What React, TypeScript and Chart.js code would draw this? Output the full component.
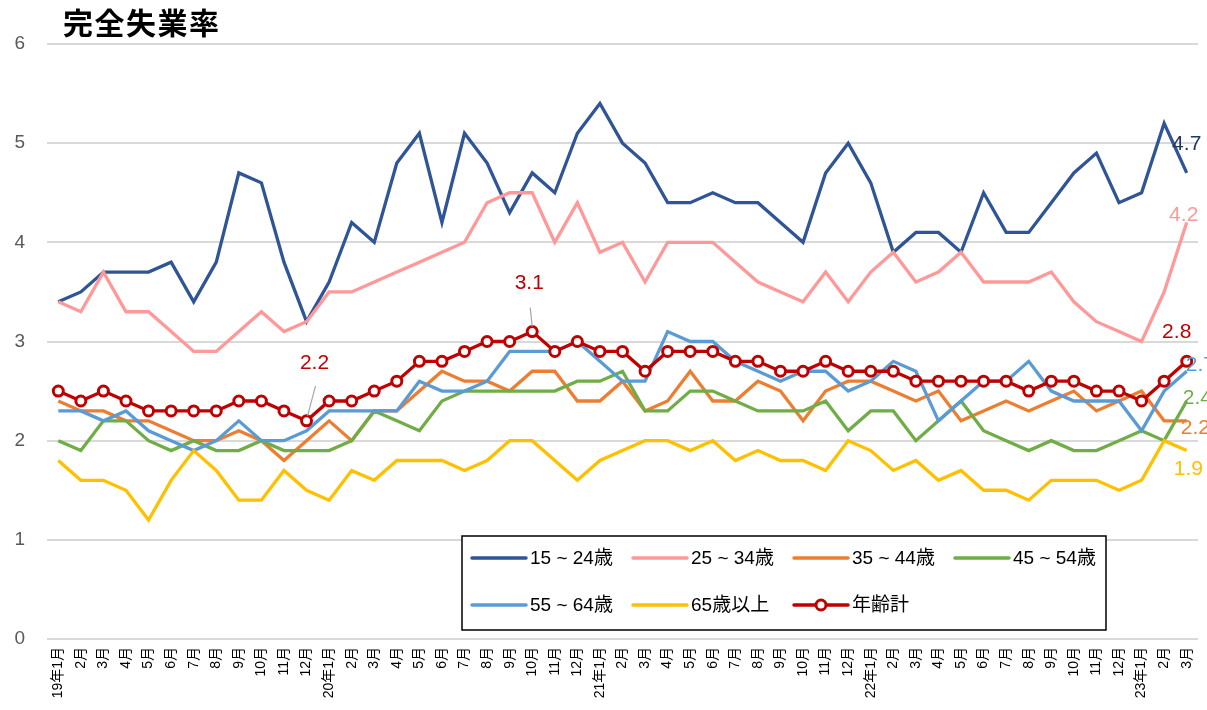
import React, { useEffect, useRef } from "react";
import { Chart, registerables } from "chart.js";

Chart.register(...registerables);

const FONT = "'Liberation Sans', Arial, 'Noto Sans CJK JP', sans-serif";

const title = "完全失業率";

const months = [
  "19年1月", "2月", "3月", "4月", "5月", "6月", "7月", "8月", "9月", "10月", "11月", "12月",
  "20年1月", "2月", "3月", "4月", "5月", "6月", "7月", "8月", "9月", "10月", "11月", "12月",
  "21年1月", "2月", "3月", "4月", "5月", "6月", "7月", "8月", "9月", "10月", "11月", "12月",
  "22年1月", "2月", "3月", "4月", "5月", "6月", "7月", "8月", "9月", "10月", "11月", "12月",
  "23年1月", "2月", "3月",
];

const yTicks = [0, 1, 2, 3, 4, 5, 6];

const seriesNames = ["15 ~ 24歳", "25 ~ 34歳", "35 ~ 44歳", "45 ~ 54歳", "55 ~ 64歳", "65歳以上", "年齢計"];

const age15to24 = [
  3.4, 3.5, 3.7, 3.7, 3.7, 3.8, 3.4, 3.8, 4.7, 4.6, 3.8, 3.2,
  3.6, 4.2, 4.0, 4.8, 5.1, 4.2, 5.1, 4.8, 4.3, 4.7, 4.5, 5.1,
  5.4, 5.0, 4.8, 4.4, 4.4, 4.5, 4.4, 4.4, 4.2, 4.0, 4.7, 5.0,
  4.6, 3.9, 4.1, 4.1, 3.9, 4.5, 4.1, 4.1, 4.4, 4.7, 4.9, 4.4,
  4.5, 5.2, 4.7,
];

const age25to34 = [
  3.4, 3.3, 3.7, 3.3, 3.3, 3.1, 2.9, 2.9, 3.1, 3.3, 3.1, 3.2,
  3.5, 3.5, 3.6, 3.7, 3.8, 3.9, 4.0, 4.4, 4.5, 4.5, 4.0, 4.4,
  3.9, 4.0, 3.6, 4.0, 4.0, 4.0, 3.8, 3.6, 3.5, 3.4, 3.7, 3.4,
  3.7, 3.9, 3.6, 3.7, 3.9, 3.6, 3.6, 3.6, 3.7, 3.4, 3.2, 3.1,
  3.0, 3.5, 4.2,
];

const age35to44 = [
  2.4, 2.3, 2.3, 2.2, 2.2, 2.1, 2.0, 2.0, 2.1, 2.0, 1.8, 2.0,
  2.2, 2.0, 2.3, 2.3, 2.5, 2.7, 2.6, 2.6, 2.5, 2.7, 2.7, 2.4,
  2.4, 2.6, 2.3, 2.4, 2.7, 2.4, 2.4, 2.6, 2.5, 2.2, 2.5, 2.6,
  2.6, 2.5, 2.4, 2.5, 2.2, 2.3, 2.4, 2.3, 2.4, 2.5, 2.3, 2.4,
  2.5, 2.2, 2.2,
];

const age45to54 = [
  2.0, 1.9, 2.2, 2.2, 2.0, 1.9, 2.0, 1.9, 1.9, 2.0, 1.9, 1.9,
  1.9, 2.0, 2.3, 2.2, 2.1, 2.4, 2.5, 2.5, 2.5, 2.5, 2.5, 2.6,
  2.6, 2.7, 2.3, 2.3, 2.5, 2.5, 2.4, 2.3, 2.3, 2.3, 2.4, 2.1,
  2.3, 2.3, 2.0, 2.2, 2.4, 2.1, 2.0, 1.9, 2.0, 1.9, 1.9, 2.0,
  2.1, 2.0, 2.4,
];

const age55to64 = [
  2.3, 2.3, 2.2, 2.3, 2.1, 2.0, 1.9, 2.0, 2.2, 2.0, 2.0, 2.1,
  2.3, 2.3, 2.3, 2.3, 2.6, 2.5, 2.5, 2.6, 2.9, 2.9, 2.9, 3.0,
  2.8, 2.6, 2.6, 3.1, 3.0, 3.0, 2.8, 2.7, 2.6, 2.7, 2.7, 2.5,
  2.6, 2.8, 2.7, 2.2, 2.4, 2.6, 2.6, 2.8, 2.5, 2.4, 2.4, 2.4,
  2.1, 2.5, 2.7,
];

const age65plus = [
  1.8, 1.6, 1.6, 1.5, 1.2, 1.6, 1.9, 1.7, 1.4, 1.4, 1.7, 1.5,
  1.4, 1.7, 1.6, 1.8, 1.8, 1.8, 1.7, 1.8, 2.0, 2.0, 1.8, 1.6,
  1.8, 1.9, 2.0, 2.0, 1.9, 2.0, 1.8, 1.9, 1.8, 1.8, 1.7, 2.0,
  1.9, 1.7, 1.8, 1.6, 1.7, 1.5, 1.5, 1.4, 1.6, 1.6, 1.6, 1.5,
  1.6, 2.0, 1.9,
];

const allAges = [
  2.5, 2.4, 2.5, 2.4, 2.3, 2.3, 2.3, 2.3, 2.4, 2.4, 2.3, 2.2,
  2.4, 2.4, 2.5, 2.6, 2.8, 2.8, 2.9, 3.0, 3.0, 3.1, 2.9, 3.0,
  2.9, 2.9, 2.7, 2.9, 2.9, 2.9, 2.8, 2.8, 2.7, 2.7, 2.8, 2.7,
  2.7, 2.7, 2.6, 2.6, 2.6, 2.6, 2.6, 2.5, 2.6, 2.6, 2.5, 2.5,
  2.4, 2.6, 2.8,
];

const seriesValues = [age15to24, age25to34, age35to44, age45to54, age55to64, age65plus, allAges];
const seriesColors = ["#2F5597", "#FF9999", "#ED7D31", "#70AD47", "#5B9BD5", "#FFC000", "#C00000"];
const labelColors = ["#203864", "#FF9999", "#ED7D31", "#70AD47", "#5B9BD5", "#FFC000", "#C00000"];

// annotated points: series index, point index, offset and alignment of the value text
const annotations: Array<{ s: number; i: number; dx: number; dy: number; align: CanvasTextAlign; leader?: number[] }> = [
  { s: 6, i: 11, dx: 8, dy: -58, align: "center", leader: [9, -35, 1, -5] },
  { s: 6, i: 21, dx: -3, dy: -48, align: "center", leader: [-2, -24, 0, -5] },
  { s: 0, i: 50, dx: 0, dy: -29, align: "center" },
  { s: 1, i: 50, dx: -3, dy: -7, align: "center" },
  { s: 6, i: 50, dx: -10, dy: -29, align: "center" },
  { s: 4, i: 50, dx: -1, dy: -6, align: "left" },
  { s: 3, i: 50, dx: -4, dy: -3, align: "left" },
  { s: 2, i: 50, dx: -6, dy: 7, align: "left" },
  { s: 5, i: 50, dx: -13, dy: 19, align: "left" },
];

const titlePlugin = {
  id: "titleText",
  afterDraw(chart: any) {
    const ctx = chart.ctx;
    ctx.save();
    ctx.font = "bold 30px 'Noto Sans CJK JP', sans-serif";
    ctx.fillStyle = "#000";
    ctx.textBaseline = "middle";
    ctx.textAlign = "left";
    try { (ctx as any).letterSpacing = "1.5px"; } catch (e) {}
    ctx.fillText(title, 63, 23);
    ctx.restore();
  },
};

const labelPlugin = {
  id: "pointLabels",
  afterDatasetsDraw(chart: any) {
    const ctx = chart.ctx;
    ctx.save();
    ctx.font = `21px ${FONT}`;
    ctx.textBaseline = "middle";
    for (const a of annotations) {
      const el = chart.getDatasetMeta(a.s).data[a.i];
      if (!el) continue;
      const v = seriesValues[a.s][a.i];
      if (a.leader) {
        ctx.strokeStyle = "#A6A6A6";
        ctx.lineWidth = 1.2;
        ctx.beginPath();
        ctx.moveTo(el.x + a.leader[0], el.y + a.leader[1]);
        ctx.lineTo(el.x + a.leader[2], el.y + a.leader[3]);
        ctx.stroke();
      }
      ctx.fillStyle = labelColors[a.s];
      ctx.textAlign = a.align;
      ctx.fillText(v.toFixed(1), el.x + a.dx, el.y + a.dy);
    }
    ctx.restore();
  },
};

const legendPlugin = {
  id: "boxLegend",
  afterDraw(chart: any) {
    const ctx = chart.ctx;
    ctx.save();
    const bx = 462, by = 536, bw = 644, bh = 94;
    ctx.fillStyle = "#fff";
    ctx.fillRect(bx, by, bw, bh);
    ctx.strokeStyle = "#000";
    ctx.lineWidth = 1.5;
    ctx.strokeRect(bx, by, bw, bh);
    ctx.font = `19px ${FONT}`;
    ctx.textBaseline = "middle";
    ctx.textAlign = "left";
    for (let k = 0; k < seriesNames.length; k++) {
      const col = k % 4;
      const row = Math.floor(k / 4);
      const x = 472 + col * 161;
      const y = row === 0 ? 558 : 605;
      ctx.strokeStyle = seriesColors[k];
      ctx.lineWidth = 3.5;
      ctx.lineCap = "round";
      ctx.beginPath();
      ctx.moveTo(x, y);
      ctx.lineTo(x + 54, y);
      ctx.stroke();
      if (k === 6) {
        ctx.beginPath();
        ctx.arc(x + 27, y, 5, 0, Math.PI * 2);
        ctx.fillStyle = "#fff";
        ctx.fill();
        ctx.lineWidth = 3;
        ctx.stroke();
      }
      ctx.fillStyle = "#000";
      ctx.fillText(seriesNames[k], x + 58, y + 1);
    }
    ctx.restore();
  },
};

export default function App() {
  const ref = useRef<HTMLCanvasElement | null>(null);
  useEffect(() => {
    if (!ref.current) return;
    Chart.defaults.font.family = FONT;
    const datasets = seriesValues.map((vals, k) => ({
      label: seriesNames[k],
      data: vals,
      borderColor: seriesColors[k],
      backgroundColor: k === 6 ? "#fff" : seriesColors[k],
      borderWidth: 3.3,
      pointRadius: k === 6 ? 5 : 0,
      pointBorderWidth: k === 6 ? 3 : 0,
      pointBackgroundColor: "#fff",
      pointBorderColor: seriesColors[k],
      tension: 0,
      order: 6 - k,
    }));
    const chart = new Chart(ref.current, {
      type: "line",
      data: { labels: months, datasets },
      options: {
        animation: false,
        responsive: false,
        maintainAspectRatio: false,
        layout: { padding: { top: 44, right: 9, left: 0, bottom: 0 } },
        plugins: { legend: { display: false }, tooltip: { enabled: false } },
        scales: {
          x: {
            offset: true,
            grid: { display: false, drawTicks: false },
            border: { display: false },
            ticks: {
              autoSkip: false,
              maxRotation: 90,
              minRotation: 90,
              color: "#000",
              padding: 8,
              font: { size: 14, family: FONT },
            },
            afterFit: (s: any) => { s.height = 71; s.paddingLeft = 0; s.paddingRight = 0; },
          },
          y: {
            min: yTicks[0],
            max: yTicks[yTicks.length - 1],
            afterBuildTicks: (s: any) => { s.ticks = yTicks.map((v) => ({ value: v })); },
            ticks: { color: "#595959", padding: 22, font: { size: 19, family: FONT } },
            grid: { color: "#D9D9D9", lineWidth: 2, drawTicks: false },
            border: { display: false },
            afterFit: (s: any) => { s.width = 47; },
          },
        },
      },
      plugins: [titlePlugin, labelPlugin, legendPlugin],
    });
    return () => chart.destroy();
  }, []);
  return (
    <div style={{ position: "fixed", left: 0, top: 0, width: 1207, height: 710, background: "#fff" }}>
      <canvas ref={ref} width={1207} height={710} style={{ width: 1207, height: 710, display: "block" }} />
    </div>
  );
}
